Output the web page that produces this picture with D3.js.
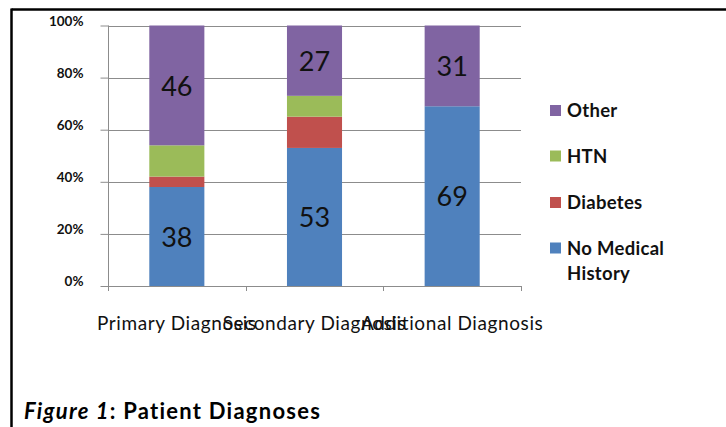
<!DOCTYPE html>
<html><head><meta charset="utf-8">
<script src="https://cdn.jsdelivr.net/npm/d3@7"></script>
<style>
html,body{margin:0;padding:0;background:#fff;}
svg{display:block;font-family:Lato,"Open Sans",sans-serif;}
</style></head>
<body>
<svg id="c" width="726" height="427"></svg>
<script>
const categories = ["Primary Diagnosis", "Secondary Diagnosis", "Additional Diagnosis"];
const seriesNames = ["No Medical History", "Diabetes", "HTN", "Other"];
const noMedicalHistory = [38, 53, 69];
const diabetes = [4, 12, 0];
const htn = [12, 8, 0];
const other = [46, 27, 31];
const seriesColors = ["#4F81BD", "#C0504D", "#9BBB59", "#8064A2"];
const yTicks = [0, 0.2, 0.4, 0.6, 0.8, 1.0];
const labeledSeries = ["No Medical History", "Other"];
const captionItalic = "Figure 1";
const captionRest = ": Patient Diagnoses";

(function () {
const svg = d3.select("#c");
const values = [noMedicalHistory, diabetes, htn, other];
const rows = categories.map((c, i) => {
  const total = values.reduce((s, v) => s + v[i], 0);
  const r = {category: c};
  seriesNames.forEach((n, k) => r[n] = values[k][i] / total);
  return r;
});
const stacked = d3.stack().keys(seriesNames)(rows);

const pLeft = 108, pRight = 521, pTop = 25.5, pBottom = 286;
const x = d3.scaleBand().domain(categories).range([pLeft, pRight]).paddingInner(0.6).paddingOuter(0.3);
const y = d3.scaleLinear().domain([0, 1]).range([pBottom, pTop]);
const grey = "#8c8c8c";

// frame
svg.append("line").attr("x1", 11.5).attr("x2", 726).attr("y1", 9.5).attr("y2", 9.5).attr("stroke", "#000").attr("stroke-width", 2.5);
svg.append("line").attr("x1", 11.5).attr("x2", 11.5).attr("y1", 8.5).attr("y2", 427).attr("stroke", "#000").attr("stroke-width", 2.5);

// gridlines
svg.append("g").selectAll("line").data(yTicks.filter(t => t > 0)).join("line")
  .attr("x1", pLeft).attr("x2", pRight)
  .attr("y1", d => Math.round(y(d)) + 0.5).attr("y2", d => Math.round(y(d)) + 0.5)
  .attr("stroke", grey).attr("stroke-width", 1);

// bars
const g = svg.append("g");
stacked.forEach((s, k) => {
  g.append("g").attr("fill", seriesColors[k]).selectAll("rect").data(s).join("rect")
    .attr("x", d => x(d.data.category))
    .attr("width", x.bandwidth())
    .attr("y", d => y(d[1]))
    .attr("height", d => y(d[0]) - y(d[1]));
});

// data labels
stacked.forEach((s, k) => {
  if (!labeledSeries.includes(seriesNames[k])) return;
  svg.append("g").selectAll("text").data(s.map((d, i) => ({d, v: values[k][i]})).filter(o => o.v > 0)).join("text")
    .attr("x", o => x(o.d.data.category) + x.bandwidth() / 2)
    .attr("y", o => (y(o.d[0]) + y(o.d[1])) / 2)
    .attr("dy", "0.38em")
    .attr("text-anchor", "middle")
    .attr("font-size", 27)
    .attr("fill", "#111")
    .text(o => o.v);
});

// y axis
const yAxis = d3.axisLeft(y).tickValues(yTicks).tickFormat(d3.format(".0%")).tickSize(8).tickPadding(17);
const ya = svg.append("g").attr("transform", `translate(${pLeft + 0.5},0)`).call(yAxis);
ya.select(".domain").remove();
ya.selectAll(".tick line").attr("stroke", grey);
ya.selectAll(".tick text").attr("font-family", "Lato, sans-serif").attr("font-size", 13.5)
  .attr("font-weight", "bold").attr("fill", "#111").attr("dy", "-0.02em");
svg.append("line").attr("x1", pLeft + 0.5).attr("x2", pLeft + 0.5).attr("y1", pTop).attr("y2", pBottom + 5).attr("stroke", grey);

// x axis
svg.append("line").attr("x1", pLeft).attr("x2", pRight).attr("y1", pBottom + 0.5).attr("y2", pBottom + 0.5).attr("stroke", grey);
const step = x.step();
svg.append("g").selectAll("line").data(categories).join("line")
  .attr("x1", (d, i) => Math.round(pLeft + step * (i + 1)) + 0.5)
  .attr("x2", (d, i) => Math.round(pLeft + step * (i + 1)) + 0.5)
  .attr("y1", pBottom).attr("y2", pBottom + 5).attr("stroke", grey);
svg.append("g").selectAll("text").data(categories).join("text")
  .attr("x", d => x(d) + x.bandwidth() / 2)
  .attr("y", 329.5)
  .attr("text-anchor", "middle")
  .attr("font-size", 19)
  .attr("letter-spacing", 0.6)
  .attr("fill", "#111")
  .text(d => d);

// legend
const legendOrder = seriesNames.map((n, k) => ({n, c: seriesColors[k]})).reverse();
const legendY = [110.5, 156, 202.5, 248];
const lg = svg.append("g");
legendOrder.forEach((o, i) => {
  lg.append("rect").attr("x", 550).attr("y", legendY[i] - 5.5).attr("width", 11).attr("height", 11).attr("fill", o.c);
  const words = o.n === "No Medical History" ? ["No Medical", "History"] : [o.n];
  words.forEach((w, j) => {
    lg.append("text").attr("x", 567).attr("y", legendY[i] + j * 25.5).attr("dy", "0.36em")
      .attr("font-size", 18.5).attr("letter-spacing", 0.3).attr("font-weight", "bold").attr("fill", "#111").text(w);
  });
});

// caption
const cap = svg.append("text").attr("x", 24).attr("y", 419).attr("font-size", 22)
  .attr("letter-spacing", 1.25).attr("font-weight", "bold").attr("fill", "#000");
cap.append("tspan").attr("font-style", "italic").text(captionItalic);
cap.append("tspan").text(captionRest);
})();
</script>
</body></html>
